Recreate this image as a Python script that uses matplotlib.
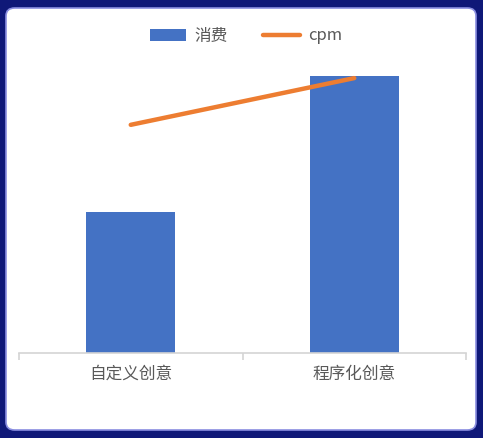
import matplotlib.pyplot as plt
import matplotlib.patches as patches
import numpy as np

plt.rcParams['font.family'] = ['Noto Sans CJK SC', 'DejaVu Sans']

categories = ["自定义创意", "程序化创意"]
spend = [5100, 10000]
cpm = [41.5, 50.0]

W, H = 483, 438
fig = plt.figure(figsize=(W / 100, H / 100), dpi=100)
fig.patch.set_facecolor('#0f1878')

# white rounded card behind everything
card = patches.FancyBboxPatch((6 / W, 8 / H), 470 / W, 422 / H,
                              boxstyle="round,pad=0,rounding_size=0.018",
                              transform=fig.transFigure, facecolor='white',
                              edgecolor='#8a8ee0', linewidth=1.2, zorder=-10)
fig.patches.append(card)

# plot area: baseline at y=353, left 19, right 466
left, right = 19 / W, 466 / W
bottom = 1 - 353 / H
top = 1 - 59.4 / H
ax = fig.add_axes([left, bottom, right - left, top - bottom])
ax.patch.set_alpha(0)

x = np.arange(len(categories))
bars = ax.bar(x, spend, width=0.4, color='#4472c4', label='消费', zorder=2)
ax.set_xlim(-0.5, 1.5)
ax.set_ylim(0, 10600)

for s in ['top', 'right', 'left']:
    ax.spines[s].set_visible(False)
ax.spines['bottom'].set_color('#d4d4d4')
ax.spines['bottom'].set_linewidth(1.2)
ax.set_yticks([])
ax.set_xticks(x)
ax.set_xticklabels(categories, fontsize=12, color='#595959')
ax.tick_params(axis='x', length=0, pad=9)
ax.set_xticks([-0.5, 0.5, 1.5], minor=True)
ax.tick_params(axis='x', which='minor', length=5, color='#d4d4d4', width=1.2)

ax2 = ax.twinx()
ax2.set_ylim(0, 53.4)
line, = ax2.plot(x, cpm, color='#ed7d31', linewidth=3.2, solid_capstyle='round',
                 label='cpm', zorder=3)
ax2.set_yticks([])
for s in ax2.spines.values():
    s.set_visible(False)

fig.legend([bars, line], ['消费', 'cpm'], loc='center', bbox_to_anchor=(246 / W, 1 - 36 / H),
           ncol=2, frameon=False, fontsize=12, labelcolor='#595959',
           handlelength=2.2, handleheight=0.7, columnspacing=2.1, handletextpad=0.5)

fig.savefig('out.png', dpi=100, facecolor=fig.get_facecolor())
